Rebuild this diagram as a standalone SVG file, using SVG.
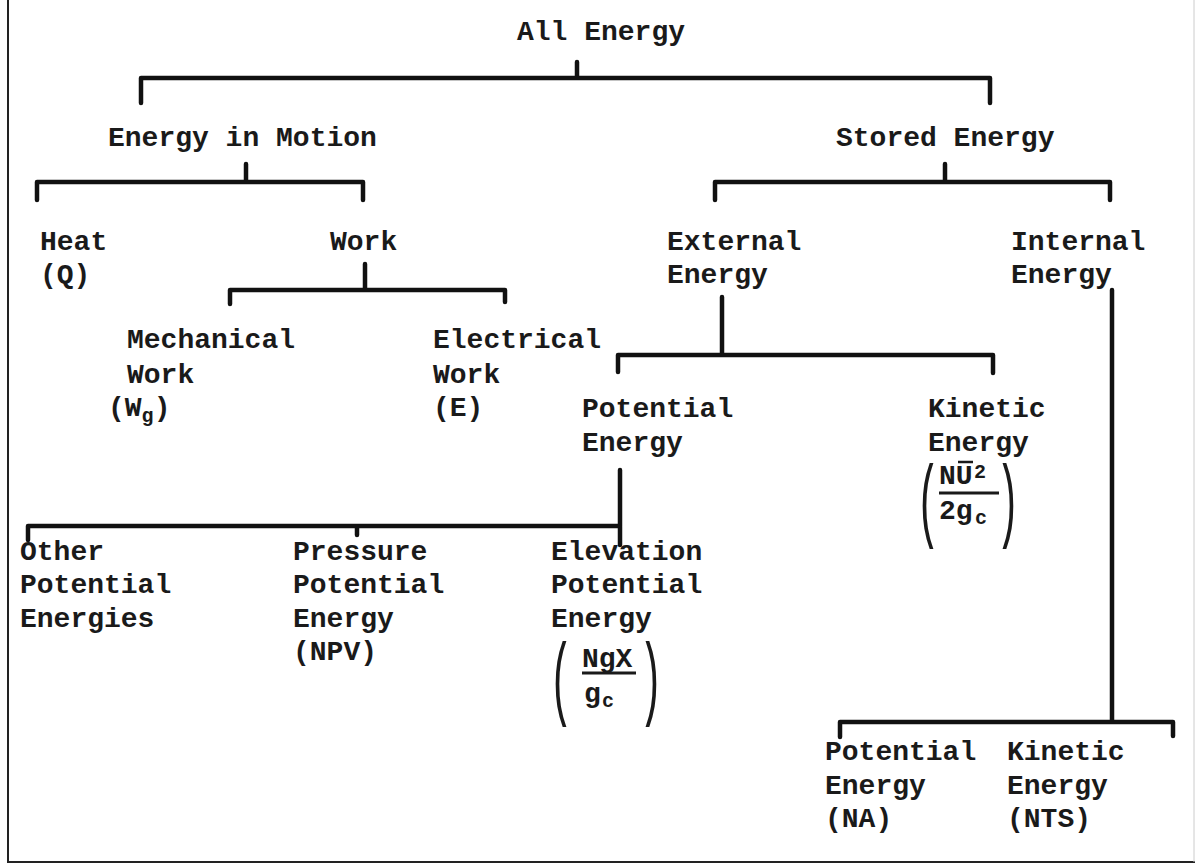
<svg xmlns="http://www.w3.org/2000/svg" width="1195" height="864" viewBox="0 0 1195 864">
<style>
text{font-family:"Liberation Mono","DejaVu Sans Mono",monospace;font-size:28px;font-weight:bold;fill:#1a1a1a}
.sub{font-size:20px}
.par{font-size:40px;font-weight:normal}
.c{fill:none;stroke:#111;stroke-width:4.5;stroke-linecap:round;stroke-linejoin:round}
.frame{fill:none;stroke:#222;stroke-width:2}
</style>
<rect width="1195" height="864" fill="#fff"/>
<path class="frame" d="M8 0V862H1195"/>
<path d="M1194 0V862" stroke="#ccc" stroke-width="1"/>
<g id="connectors">
<path class="c" d="M577 62V78M141 103V78H990V103"/>
<path class="c" d="M246 164V182M37 200V182H363V200"/>
<path class="c" d="M945 164V182M715 200V182H1110V200"/>
<path class="c" d="M365 264V290M230 304V290H505V302"/>
<path class="c" d="M722 297V355M618 372V355H993V373"/>
<path class="c" d="M620 470V545M28 540V526H620M357 535V526"/>
<path class="c" d="M1112 290V722M840 737V722H1173V736"/>
</g>
<g id="all-energy"><text x="517" y="40">All Energy</text></g>
<g id="energy-in-motion"><text x="108" y="146">Energy in Motion</text></g>
<g id="stored-energy"><text x="836" y="146">Stored Energy</text></g>
<g id="heat"><text x="40" y="250">Heat</text><text x="40" y="283">(Q)</text></g>
<g id="work"><text x="330" y="250">Work</text></g>
<g id="mechanical-work"><text x="127" y="348">Mechanical</text><text x="127" y="383">Work</text><text x="108" y="416">(W<tspan class="sub" dy="6">g</tspan><tspan dy="-6">)</tspan></text></g>
<g id="electrical-work"><text x="433" y="348">Electrical</text><text x="433" y="383">Work</text><text x="433" y="416">(E)</text></g>
<g id="external-energy"><text x="667" y="250">External</text><text x="667" y="283">Energy</text></g>
<g id="internal-energy"><text x="1011" y="250">Internal</text><text x="1011" y="283">Energy</text></g>
<g id="potential-energy"><text x="582" y="417">Potential</text><text x="582" y="451">Energy</text></g>
<g id="kinetic-energy"><text x="928" y="417">Kinetic</text><text x="928" y="451">Energy</text>
<text class="par" transform="translate(916 530) scale(1 2.3)">(</text>
<text x="939" y="484">NU</text><text class="sub" x="974" y="478">2</text>
<path d="M958 462H973" stroke="#1a1a1a" stroke-width="2.5"/>
<path d="M939 493H999" stroke="#1a1a1a" stroke-width="3"/>
<text x="939" y="519">2g</text><text class="sub" x="975" y="524">c</text>
<text class="par" transform="translate(996 530) scale(1 2.3)">)</text>
</g>
<g id="other-potential"><text x="20" y="560">Other</text><text x="20" y="593">Potential</text><text x="20" y="627">Energies</text></g>
<g id="pressure-potential"><text x="293" y="560">Pressure</text><text x="293" y="593">Potential</text><text x="293" y="627">Energy</text><text x="293" y="660">(NPV)</text></g>
<g id="elevation-potential"><text x="551" y="560">Elevation</text><text x="551" y="593">Potential</text><text x="551" y="627">Energy</text>
<text class="par" transform="translate(549 708) scale(1 2.3)">(</text>
<text x="582" y="667">NgX</text>
<path d="M582 673H636" stroke="#1a1a1a" stroke-width="3"/>
<text x="584" y="702">g</text><text class="sub" x="602" y="707">c</text>
<text class="par" transform="translate(639 708) scale(1 2.3)">)</text>
</g>
<g id="internal-potential"><text x="825" y="760">Potential</text><text x="825" y="794">Energy</text><text x="825" y="827">(NA)</text></g>
<g id="internal-kinetic"><text x="1007" y="760">Kinetic</text><text x="1007" y="794">Energy</text><text x="1007" y="827">(NTS)</text></g>
</svg>
